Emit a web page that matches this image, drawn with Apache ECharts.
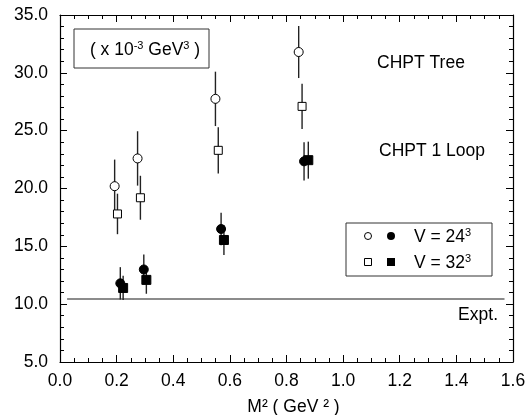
<!DOCTYPE html>
<html><head><meta charset="utf-8">
<script src="https://cdn.jsdelivr.net/npm/echarts@6/dist/echarts.min.js"></script>
<style>html,body{margin:0;padding:0;background:#fff}#c{width:532px;height:415px}</style>
</head><body><div id="c"></div>
<script>
// Data (M^2 in GeV^2, value in 10^-3 GeV^3)
const x24Tree = [0.193, 0.274, 0.549, 0.843];
const y24Tree = [20.2, 22.6, 27.75, 31.8];
const e24Tree = [2.3, 2.35, 2.35, 2.25];
const x32Tree = [0.203, 0.284, 0.559, 0.855];
const y32Tree = [17.8, 19.2, 23.3, 27.1];
const e32Tree = [1.75, 1.9, 2.0, 1.95];
const x24Loop = [0.213, 0.296, 0.569, 0.862];
const y24Loop = [11.8, 13.0, 16.5, 22.35];
const e24Loop = [1.4, 1.3, 1.4, 1.65];
const x32Loop = [0.223, 0.305, 0.579, 0.877];
const y32Loop = [11.4, 12.1, 15.55, 22.45];
const e32Loop = [1.05, 1.2, 1.3, 1.6];
const exptX = [0.025, 1.57];
const exptY = 10.45;

const FONT = 'Liberation Sans, Arial, sans-serif';
const FS = 17.5;
const chart = echarts.init(document.getElementById('c'));

function pts(xs, ys) { return xs.map((x, i) => [x, ys[i]]); }
function errs(xs, ys, es) { return xs.map((x, i) => [x, ys[i] - es[i], ys[i] + es[i]]); }

function errSeries(xs, ys, es) {
  return {
    type: 'custom', z: 2, silent: true,
    data: errs(xs, ys, es),
    renderItem: function (params, api) {
      const p1 = api.coord([api.value(0), api.value(1)]);
      const p2 = api.coord([api.value(0), api.value(2)]);
      return { type: 'line', shape: { x1: p1[0], y1: p1[1], x2: p2[0], y2: p2[1] },
        style: { stroke: '#222', lineWidth: 1.4 } };
    }
  };
}
function markSeries(xs, ys, symbol, size, filled) {
  return {
    type: 'scatter', z: 5, silent: true, symbol: symbol, symbolSize: size,
    data: pts(xs, ys),
    itemStyle: { color: filled ? '#000' : '#fff', borderColor: '#000', borderWidth: 1, opacity: 1 }
  };
}

const axisCommon = {
  axisLine: { show: true, onZero: false, lineStyle: { color: '#000', width: 1.2 } },
  splitLine: { show: false },
  axisTick: { show: true, inside: true, length: 7, lineStyle: { color: '#000', width: 1 } },
  minorTick: { show: true, length: 4, lineStyle: { color: '#000', width: 1 } },
};
const supStyle = { s: { fontSize: 11, fontFamily: FONT, padding: [0, 0, 9, 0], verticalAlign: 'top' } };

chart.setOption({
  animation: false,
  grid: { left: 60, right: 19, top: 15, bottom: 53, containLabel: false, outerBoundsMode: 'none' },
  xAxis: [
    Object.assign({}, axisCommon, {
      type: 'value', min: 0, max: 1.6, interval: 0.2, position: 'bottom',
      minorTick: Object.assign({}, axisCommon.minorTick, { splitNumber: 4 }),
      axisLabel: { color: '#000', fontSize: FS, fontFamily: FONT, margin: 10,
        formatter: v => v.toFixed(1) },
      name: 'M² ( GeV ² )', nameLocation: 'middle', nameGap: 36,
      nameTextStyle: { color: '#000', fontSize: FS, fontFamily: FONT, padding: [0, 0, 0, 14] }
    }),
    Object.assign({}, axisCommon, {
      type: 'value', min: 0, max: 1.6, interval: 0.2, position: 'top',
      minorTick: Object.assign({}, axisCommon.minorTick, { splitNumber: 4 }),
      axisLabel: { show: false }
    })
  ],
  yAxis: [
    Object.assign({}, axisCommon, {
      type: 'value', min: 5, max: 35, interval: 5, position: 'left',
      minorTick: Object.assign({}, axisCommon.minorTick, { splitNumber: 5 }),
      axisLabel: { color: '#000', fontSize: FS, fontFamily: FONT, margin: 12,
        formatter: v => v.toFixed(1) }
    }),
    Object.assign({}, axisCommon, {
      type: 'value', min: 5, max: 35, interval: 5, position: 'right',
      minorTick: Object.assign({}, axisCommon.minorTick, { splitNumber: 5 }),
      axisLabel: { show: false }
    })
  ],
  series: [
    {
      type: 'line', silent: true, symbol: 'none', z: 1,
      data: exptX.map(x => [x, exptY]),
      lineStyle: { color: '#666', width: 1.5 }
    },
    errSeries(x24Tree, y24Tree, e24Tree),
    errSeries(x32Tree, y32Tree, e32Tree),
    errSeries(x24Loop, y24Loop, e24Loop),
    errSeries(x32Loop, y32Loop, e32Loop),
    markSeries(x24Tree, y24Tree, 'circle', 9, false),
    markSeries(x32Tree, y32Tree, 'rect', 8, false),
    markSeries(x24Loop, y24Loop, 'circle', 9, true),
    markSeries(x32Loop, y32Loop, 'rect', 9, true)
  ],
  graphic: [
    { type: 'rect', shape: { x: 74, y: 29, width: 135, height: 39 },
      style: { fill: '#fff', stroke: '#333', lineWidth: 1 }, z: 10 },
    { type: 'text', x: 145, y: 50, z: 11,
      style: { text: '( x 10{s|-3} GeV{s|3} )', align: 'center', verticalAlign: 'middle',
        font: FS + 'px ' + FONT, fill: '#000', rich: supStyle } },
    { type: 'text', x: 421, y: 63, z: 11,
      style: { text: 'CHPT Tree', align: 'center', verticalAlign: 'middle', font: FS + 'px ' + FONT, fill: '#000' } },
    { type: 'text', x: 432, y: 151, z: 11,
      style: { text: 'CHPT 1 Loop', align: 'center', verticalAlign: 'middle', font: FS + 'px ' + FONT, fill: '#000' } },
    { type: 'text', x: 498, y: 315, z: 11,
      style: { text: 'Expt.', align: 'right', verticalAlign: 'middle', font: FS + 'px ' + FONT, fill: '#000' } },
    { type: 'rect', shape: { x: 346, y: 223, width: 146, height: 53 },
      style: { fill: '#fff', stroke: '#333', lineWidth: 1 }, z: 10 },
    { type: 'circle', shape: { cx: 368, cy: 236, r: 3.5 }, style: { fill: '#fff', stroke: '#000', lineWidth: 1 }, z: 11 },
    { type: 'circle', shape: { cx: 391, cy: 236, r: 4 }, style: { fill: '#000' }, z: 11 },
    { type: 'rect', shape: { x: 364.5, y: 258.5, width: 7, height: 7 }, style: { fill: '#fff', stroke: '#000', lineWidth: 1 }, z: 11 },
    { type: 'rect', shape: { x: 387, y: 258, width: 8, height: 8 }, style: { fill: '#000' }, z: 11 },
    { type: 'text', x: 414, y: 237, z: 11,
      style: { text: 'V = 24{s|3}', align: 'left', verticalAlign: 'middle', font: FS + 'px ' + FONT, fill: '#000', rich: supStyle } },
    { type: 'text', x: 414, y: 263, z: 11,
      style: { text: 'V = 32{s|3}', align: 'left', verticalAlign: 'middle', font: FS + 'px ' + FONT, fill: '#000', rich: supStyle } }
  ]
});
</script>
</body></html>
